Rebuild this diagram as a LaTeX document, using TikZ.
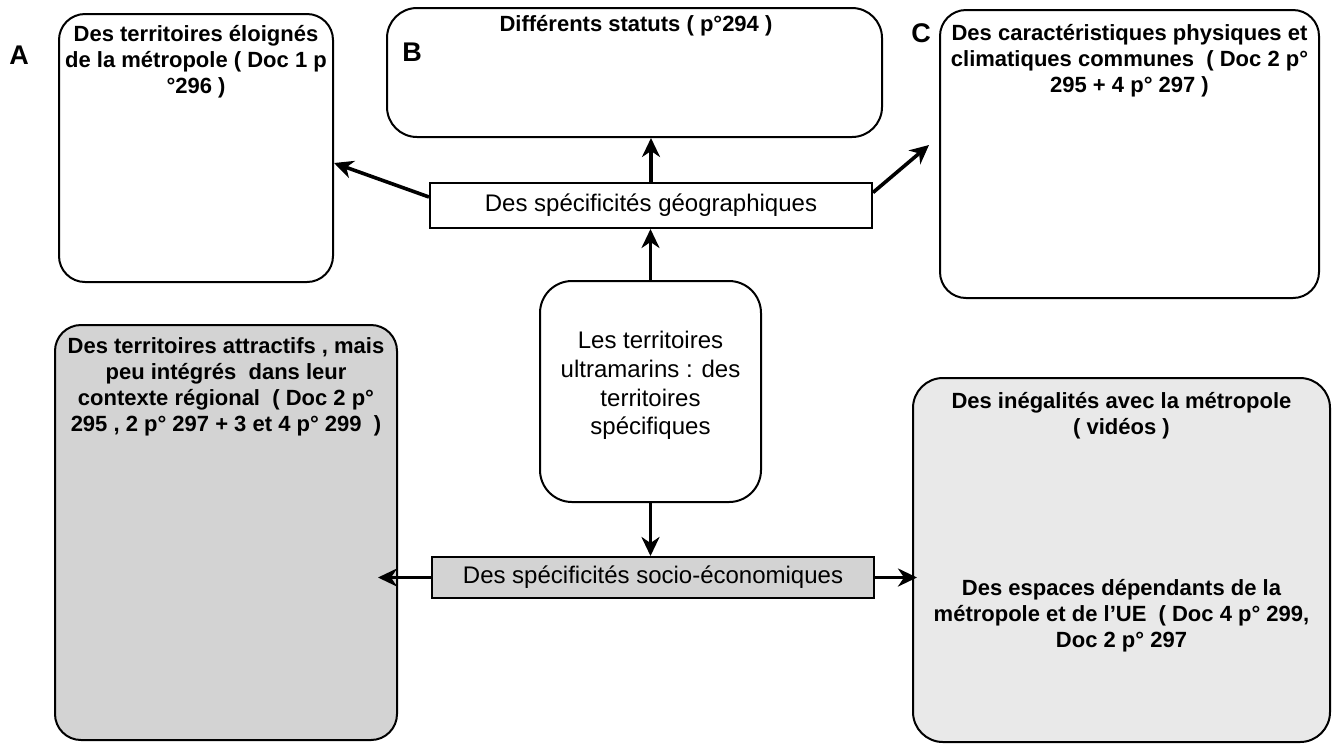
\documentclass[tikz,border=0pt]{standalone}
\usepackage{fontspec}
\setmainfont{Liberation Sans}
\usetikzlibrary{arrows.meta,calc}
\definecolor{grayDark}{HTML}{D3D3D3}
\definecolor{grayLight}{HTML}{E9E9E9}
\begin{document}
\begin{tikzpicture}[x=0.5pt,y=-0.5pt,
  rbox/.style={draw=black, line width=1pt, inner sep=0pt},
  arr/.style={line width=1.8pt, -{Stealth[length=9.5pt,width=9pt,inset=3pt]}},
  btext/.style={font=\bfseries\fontsize{11}{13}\selectfont, align=center, inner sep=0pt, anchor=north},
  ntext/.style={font=\fontsize{12}{14.3}\selectfont, align=center, inner sep=0pt},
  letter/.style={font=\bfseries\fontsize{13.5}{15}\selectfont, inner sep=0pt}]
\useasboundingbox (0,0) rectangle (1332,746);

% boxes
\node[rbox, rounded corners=13pt, minimum width=137pt, minimum height=134pt] (boxA) at (196,148) {};
\node[rbox, rounded corners=15pt, minimum width=247.5pt, minimum height=64.5pt] (boxB) at (634.5,72.5) {};
\node[rbox, rounded corners=13pt, minimum width=189.5pt, minimum height=144pt] (boxC) at (1129.5,154) {};
\node[rbox, ntext, minimum width=221pt, minimum height=22.5pt] (geo) at (651,205.5) {Des spécificités géographiques};
\node[rbox, rounded corners=16pt, minimum width=110.5pt, minimum height=110.5pt] (ctr) at (650.5,391.5) {};
\node[rbox, ntext, fill=grayDark, minimum width=221pt, minimum height=20.5pt] (soc) at (653,577.5) {Des spécificités socio-économiques};
\node[rbox, rounded corners=13pt, fill=grayDark, minimum width=171pt, minimum height=207.5pt] (boxL) at (226,532.5) {};
\node[rbox, rounded corners=15pt, fill=grayLight, minimum width=208.5pt, minimum height=182pt] (boxR) at (1121.5,560) {};

% texts
\node[btext] (tA) at (196,25) {Des territoires éloignés\\de la métropole ( Doc 1 p\\°296 )};
\node[btext] (tB) at (636,15) {Différents statuts ( p°294 )};
\node[btext] (tC) at (1129.5,24) {Des caractéristiques physiques et\\climatiques communes~ ( Doc 2 p°\\295 + 4 p° 297 )};
\node[ntext, anchor=north] (tCtr) at (650.5,331) {Les territoires\\ultramarins : des\\territoires\\spécifiques};
\node[btext] (tL) at (226,337) {Des territoires attractifs , mais\\peu intégrés~ dans leur\\contexte régional~ ( Doc 2 p°\\295 , 2 p° 297 + 3 et 4 p° 299~ )};
\node[btext] (tR1) at (1121.5,392) {Des inégalités avec la métropole\\( vidéos )};
\node[btext] (tR2) at (1121.5,579) {Des espaces dépendants de la\\métropole et de l’UE~ ( Doc 4 p° 299,\\Doc 2 p° 297};

% letters
\node[letter] (lA) at (19,55) {A};
\node[letter] (lB) at (412,52) {B};
\node[letter] (lC) at (921,33) {C};

% connectors
\coordinate (tipL) at ($(boxL.east)+(-20,0)$);
\coordinate (tipR) at ($(boxR.west)+(5,0)$);
\draw[arr] ($(geo.west)+(0,-8.5)$) -- ($(boxA.east)+(0,15)$);
\draw[arr] ($(geo.east)+(0,-13)$) -- ($(boxC.west)+(-10,-9)$);
\draw[arr] (geo.north) -- (geo.north |- boxB.south);
\draw[arr] (ctr.north) -- (ctr.north |- geo.south);
\draw[arr] (ctr.south) -- (ctr.south |- soc.north);
\draw[arr] (soc.west) -- (soc.west -| tipL);
\draw[arr] (soc.east) -- (soc.east -| tipR);
\end{tikzpicture}
\end{document}
